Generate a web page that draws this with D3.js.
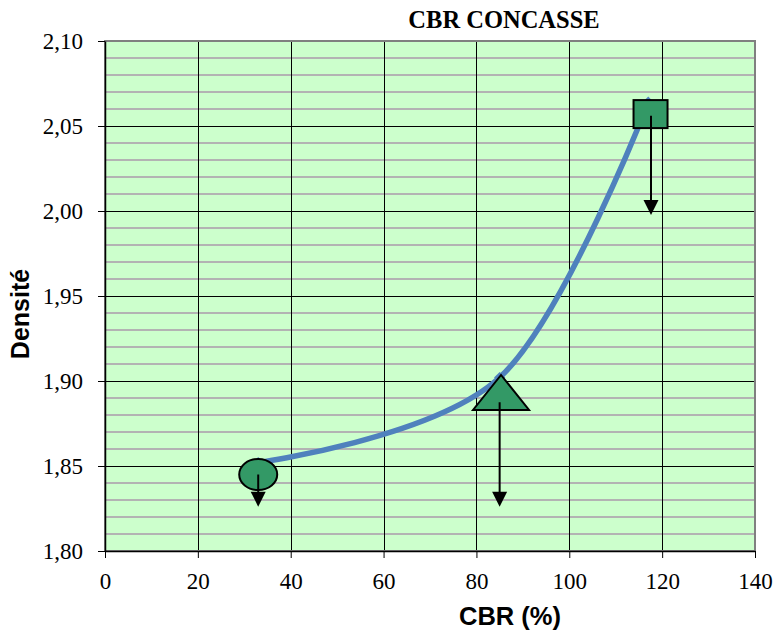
<!DOCTYPE html>
<html>
<head>
<meta charset="utf-8">
<script src="https://cdn.jsdelivr.net/npm/d3@7"></script>
<style>
  body { margin: 0; background: #fff; }
  svg { display: block; }
</style>
</head>
<body>
<svg width="776" height="634"></svg>
<script>
// data
var cbr = [33, 85, 117];
var densite = [1.852, 1.902, 2.064];

var xTicks = [0, 20, 40, 60, 80, 100, 120, 140];
var yTicks = [1.80, 1.85, 1.90, 1.95, 2.00, 2.05, 2.10];

// hand drawn shapes on the chart (in data units)
var shapeTypes = ["ellipse", "triangle", "square"];
var shapeCbr = [33, 85.3, 117.5];
var shapeDensite = [1.845, 1.890, 2.057];
var arrowFrom = [1.845, 1.8875, 2.056];
var arrowTo = [1.826, 1.826, 1.9976];
var arrowCbr = [33, 85, 117.6];

var serif = "'Liberation Serif', 'Times New Roman', serif";
var sans = "'Liberation Sans', Arial, sans-serif";

var svg = d3.select("svg");
var margin = {left: 105, top: 41, right: 21, bottom: 83};
var width = +svg.attr("width") - margin.left - margin.right;
var height = +svg.attr("height") - margin.top - margin.bottom;

var x = d3.scaleLinear().domain([0, 140]).range([0, width]);
var y = d3.scaleLinear().domain([1.80, 2.10]).range([height, 0]);

var fr = d3.formatLocale({decimal: ",", thousands: " ", grouping: [3], currency: ["", "€"]});
var fmt = fr.format(".2f");

var g = svg.append("g").attr("transform", `translate(${margin.left},${margin.top})`);

// plot background
g.append("rect")
  .attr("width", width).attr("height", height)
  .attr("fill", "#ccffcc");

// minor gridlines every 0.01
var minor = d3.range(181, 210).map(d => d / 100).filter(d => Math.round(d * 100) % 5 != 0);
g.append("g").selectAll("line").data(minor).enter().append("line")
  .attr("x1", 0).attr("x2", width)
  .attr("y1", d => y(d)).attr("y2", d => y(d))
  .attr("stroke", "#b3b3b3").attr("stroke-width", 2);

// major gridlines
g.append("g").selectAll("line").data(yTicks.slice(1, -1)).enter().append("line")
  .attr("x1", 0).attr("x2", width)
  .attr("y1", d => Math.round(y(d)) + 0.5).attr("y2", d => Math.round(y(d)) + 0.5)
  .attr("stroke", "#000").attr("stroke-width", 1);
g.append("g").selectAll("line").data(xTicks.slice(1, -1)).enter().append("line")
  .attr("y1", 0).attr("y2", height)
  .attr("x1", d => Math.round(x(d)) + 0.5).attr("x2", d => Math.round(x(d)) + 0.5)
  .attr("stroke", "#000").attr("stroke-width", 1);

// plot border
g.append("rect")
  .attr("width", width).attr("height", height)
  .attr("fill", "none").attr("stroke", "#808080").attr("stroke-width", 2);

// axes
var xAxis = g.append("g").attr("transform", `translate(0,${height})`)
  .call(d3.axisBottom(x).tickValues(xTicks).tickSize(7).tickSizeOuter(0).tickFormat(d3.format("d")));
var yAxis = g.append("g")
  .call(d3.axisLeft(y).tickValues(yTicks).tickSize(7).tickSizeOuter(0).tickFormat(fmt));

[xAxis, yAxis].forEach(a => {
  a.attr("font-family", serif).attr("font-size", 23);
  a.select(".domain").attr("stroke", "#000").attr("stroke-width", 1.5);
  a.selectAll(".tick line").attr("stroke", "#000");
  a.selectAll("text")
    .style("font-family", serif)
    .style("font-size", "23px").attr("fill", "#000");
});
xAxis.selectAll("text").attr("y", 22).attr("dy", "0.71em");
yAxis.selectAll("text").attr("x", -22);

// line
var pts = cbr.map((c, i) => [x(c), y(densite[i])]);
var line = d3.line().curve(d3.curveCardinal.tension(0));
g.append("path")
  .attr("d", line(pts))
  .attr("fill", "none")
  .attr("stroke", "#4f81bd")
  .attr("stroke-width", 5.5)
  .attr("stroke-linecap", "round");

// diamond markers
g.append("g").selectAll("path").data(pts).enter().append("path")
  .attr("transform", d => `translate(${d[0]},${d[1]})`)
  .attr("d", d3.symbol().type(d3.symbolDiamond2).size(80))
  .attr("fill", "#4f81bd");

// shapes
var shapes = g.append("g");
shapeTypes.forEach((t, i) => {
  var cx = x(shapeCbr[i]), cy = y(shapeDensite[i]);
  var s;
  if (t == "ellipse") {
    s = shapes.append("ellipse").attr("cx", cx).attr("cy", cy).attr("rx", 19).attr("ry", 15.5);
  } else if (t == "triangle") {
    s = shapes.append("path")
      .attr("d", `M${cx},${cy - 23}L${cx + 28},${cy + 12}L${cx - 28},${cy + 12}Z`);
  } else {
    s = shapes.append("rect").attr("x", cx - 17).attr("y", cy - 14).attr("width", 34).attr("height", 28);
  }
  s.attr("fill", "#339966").attr("stroke", "#000").attr("stroke-width", 2);
});

// arrows
var arrows = g.append("g");
arrowCbr.forEach((c, i) => {
  var ax = x(c), y0 = y(arrowFrom[i]), y1 = y(arrowTo[i]);
  arrows.append("line")
    .attr("x1", ax).attr("x2", ax).attr("y1", y0).attr("y2", y1 - 12)
    .attr("stroke", "#000").attr("stroke-width", 2);
  arrows.append("path")
    .attr("d", `M${ax - 7.5},${y1 - 15}L${ax + 7.5},${y1 - 15}L${ax},${y1}Z`)
    .attr("fill", "#000");
});

// titles
svg.append("text")
  .attr("x", 504).attr("y", 28)
  .attr("text-anchor", "middle")
  .style("font-family", serif)
  .style("font-weight", "bold").style("font-size", "24.5px")
  .text("CBR CONCASSE");

svg.append("text")
  .attr("x", 510).attr("y", 625)
  .attr("text-anchor", "middle")
  .style("font-family", sans)
  .style("font-weight", "bold").style("font-size", "25.5px")
  .text("CBR (%)");

svg.append("text")
  .attr("transform", "translate(29,314) rotate(-90)")
  .attr("text-anchor", "middle")
  .style("font-family", sans)
  .style("font-weight", "bold").style("font-size", "25px")
  .text("Densité");
</script>
</body>
</html>
